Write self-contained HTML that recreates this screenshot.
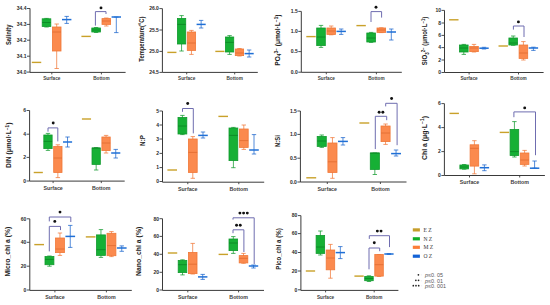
<!DOCTYPE html>
<html><head><meta charset="utf-8"><style>
html,body{margin:0;padding:0;background:#fff;}
body{width:550px;height:305px;overflow:hidden;}
svg{display:block;}
text{font-family:"Liberation Sans",sans-serif;}
.ax{fill:none;stroke:#3a3a3a;stroke-width:1.0;}
.tk{fill:none;stroke:#3a3a3a;stroke-width:0.9;}
.tl{font-size:5px;font-weight:bold;fill:#2a2a2a;text-anchor:end;}
.xl{font-size:4.7px;font-weight:bold;fill:#404040;text-anchor:middle;}
.yl{font-size:6.4px;font-weight:bold;fill:#222;}
.br{fill:none;stroke:#6f6db0;stroke-width:1.0;}
.st{font-size:7px;font-weight:bold;fill:#111;text-anchor:middle;}
.lg{font-family:"Liberation Serif",serif;font-size:5.6px;fill:#333;letter-spacing:0px;}
.ps{font-size:5px;font-weight:bold;fill:#222;text-anchor:end;}
.pt{font-size:5.4px;fill:#555;}
.pc{font-size:4px;fill:#bbb;}
</style></head><body>
<svg width="550" height="305" viewBox="0 0 550 305">
<path d="M30 8.4V72.4H125.6" class="ax"/>
<path d="M27 72.1H30" class="tk"/>
<text x="26.5" y="73.9" class="tl">34.0</text>
<path d="M27 56.2H30" class="tk"/>
<text x="26.5" y="58" class="tl">34.1</text>
<path d="M27 40.2H30" class="tk"/>
<text x="26.5" y="42" class="tl">34.2</text>
<path d="M27 24.4H30" class="tk"/>
<text x="26.5" y="26.2" class="tl">34.3</text>
<path d="M27 8.5H30" class="tk"/>
<text x="26.5" y="10.3" class="tl">34.4</text>
<path d="M51.8 72.4V74.4" class="tk"/>
<path d="M101.4 72.4V74.4" class="tk"/>
<text x="51.8" y="79.8" class="xl" font-size="4.7" style="font-size:4.7px">Surface</text>
<text x="101.4" y="79.8" class="xl" style="font-size:4.7px">Bottom</text>
<rect x="31.81" y="61.7" width="9.41" height="1.4" fill="#c9a12a"/>
<path d="M46.51 18.4V27M44.31 18.4H48.71M44.31 27H48.71" stroke="#119a2e" stroke-width="0.75" fill="none"/>
<rect x="42.2" y="18.8" width="8.61" height="7.7" fill="#16b035" stroke="#119a2e" stroke-width="0.8"/>
<path d="M42.2 22.5H50.81" stroke="#0b8424" stroke-width="0.8"/>
<path d="M56.7 24V68.5M54.5 24H58.9M54.5 68.5H58.9" stroke="#f07838" stroke-width="0.75" fill="none"/>
<rect x="52.4" y="27" width="8.61" height="24" fill="#fb8a4e" stroke="#f07838" stroke-width="0.8"/>
<path d="M52.4 32H61" stroke="#e06a30" stroke-width="0.8"/>
<path d="M66.7 16.4V23.4M64.5 16.4H68.9M64.5 23.4H68.9" stroke="#1a64cc" stroke-width="0.75" fill="none"/>
<path d="M61.99 19.6H71.4" stroke="#1f6fd6" stroke-width="1.5"/>
<rect x="81.41" y="35.7" width="9.41" height="1.4" fill="#c9a12a"/>
<path d="M96.11 27.5V32.5M93.91 27.5H98.31M93.91 32.5H98.31" stroke="#119a2e" stroke-width="0.75" fill="none"/>
<rect x="91.8" y="28" width="8.61" height="4" fill="#16b035" stroke="#119a2e" stroke-width="0.8"/>
<path d="M91.8 30H100.41" stroke="#0b8424" stroke-width="0.8"/>
<path d="M106.3 18V26M104.1 18H108.5M104.1 26H108.5" stroke="#f07838" stroke-width="0.75" fill="none"/>
<rect x="102" y="18.6" width="8.61" height="5.8" fill="#fb8a4e" stroke="#f07838" stroke-width="0.8"/>
<path d="M102 21H110.6" stroke="#e06a30" stroke-width="0.8"/>
<path d="M116.3 17V32.6M114.1 17H118.5M114.1 32.6H118.5" stroke="#1a64cc" stroke-width="0.75" fill="none"/>
<path d="M111.59 17H121" stroke="#1f6fd6" stroke-width="1.5"/>
<path d="M95.4 25.6V11.6H106V14" class="br"/>
<circle cx="101" cy="7.9" r="1.45" fill="#111"/>
<path d="M162.4 8.6V72.4H257.8" class="ax"/>
<path d="M159.4 72.4H162.4" class="tk"/>
<text x="158.9" y="74.2" class="tl">24.5</text>
<path d="M159.4 51.4H162.4" class="tk"/>
<text x="158.9" y="53.2" class="tl">25.0</text>
<path d="M159.4 30H162.4" class="tk"/>
<text x="158.9" y="31.8" class="tl">25.5</text>
<path d="M159.4 8.6H162.4" class="tk"/>
<text x="158.9" y="10.4" class="tl">26.0</text>
<path d="M186.7 72.4V74.4" class="tk"/>
<path d="M234.7 72.4V74.4" class="tk"/>
<text x="186.7" y="80" class="xl" font-size="4.7" style="font-size:4.7px">Surface</text>
<text x="234.7" y="80" class="xl" style="font-size:4.7px">Bottom</text>
<rect x="167.32" y="51.7" width="9.12" height="1.4" fill="#c9a12a"/>
<path d="M181.57 15.6V51M179.37 15.6H183.77M179.37 51H183.77" stroke="#119a2e" stroke-width="0.75" fill="none"/>
<rect x="177.41" y="18.4" width="8.32" height="25.6" fill="#16b035" stroke="#119a2e" stroke-width="0.8"/>
<path d="M177.41 24.4H185.73" stroke="#0b8424" stroke-width="0.8"/>
<path d="M191.45 30.4V54.4M189.25 30.4H193.65M189.25 54.4H193.65" stroke="#f07838" stroke-width="0.75" fill="none"/>
<rect x="187.29" y="32" width="8.32" height="18.4" fill="#fb8a4e" stroke="#f07838" stroke-width="0.8"/>
<path d="M187.29 43H195.61" stroke="#e06a30" stroke-width="0.8"/>
<path d="M201.14 20.4V28M198.94 20.4H203.34M198.94 28H203.34" stroke="#1a64cc" stroke-width="0.75" fill="none"/>
<path d="M196.58 24.4H205.7" stroke="#1f6fd6" stroke-width="1.5"/>
<rect x="215.32" y="50.7" width="9.12" height="1.4" fill="#c9a12a"/>
<path d="M229.57 35.6V54.4M227.37 35.6H231.77M227.37 54.4H231.77" stroke="#119a2e" stroke-width="0.75" fill="none"/>
<rect x="225.41" y="37" width="8.32" height="15" fill="#16b035" stroke="#119a2e" stroke-width="0.8"/>
<path d="M225.41 42.4H233.73" stroke="#0b8424" stroke-width="0.8"/>
<path d="M239.45 48.5V56M237.25 48.5H241.65M237.25 56H241.65" stroke="#f07838" stroke-width="0.75" fill="none"/>
<rect x="235.29" y="49" width="8.32" height="6.6" fill="#fb8a4e" stroke="#f07838" stroke-width="0.8"/>
<path d="M235.29 53H243.61" stroke="#e06a30" stroke-width="0.8"/>
<path d="M249.14 50V57M246.94 50H251.34M246.94 57H251.34" stroke="#1a64cc" stroke-width="0.75" fill="none"/>
<path d="M244.58 53.6H253.7" stroke="#1f6fd6" stroke-width="1.5"/>
<path d="M301.3 11.4V72.3H401.8" class="ax"/>
<path d="M298.3 72.2H301.3" class="tk"/>
<text x="297.8" y="74" class="tl">0.0</text>
<path d="M298.3 51.6H301.3" class="tk"/>
<text x="297.8" y="53.4" class="tl">0.5</text>
<path d="M298.3 31.4H301.3" class="tk"/>
<text x="297.8" y="33.2" class="tl">1.0</text>
<path d="M298.3 11.4H301.3" class="tk"/>
<text x="297.8" y="13.2" class="tl">1.5</text>
<path d="M326.3 72.3V74.3" class="tk"/>
<path d="M376.4 72.3V74.3" class="tk"/>
<text x="326.3" y="80.4" class="xl" font-size="4.7" style="font-size:4.7px">Surface</text>
<text x="376.4" y="80.4" class="xl" style="font-size:4.7px">Bottom</text>
<rect x="306.31" y="35.9" width="9.41" height="1.4" fill="#c9a12a"/>
<path d="M321.01 25.4V47.4M318.81 25.4H323.21M318.81 47.4H323.21" stroke="#119a2e" stroke-width="0.75" fill="none"/>
<rect x="316.7" y="28" width="8.61" height="17.6" fill="#16b035" stroke="#119a2e" stroke-width="0.8"/>
<path d="M316.7 37H325.31" stroke="#0b8424" stroke-width="0.8"/>
<path d="M331.2 26V34.8M329 26H333.4M329 34.8H333.4" stroke="#f07838" stroke-width="0.75" fill="none"/>
<rect x="326.9" y="28" width="8.61" height="6.4" fill="#fb8a4e" stroke="#f07838" stroke-width="0.8"/>
<path d="M326.9 31H335.5" stroke="#e06a30" stroke-width="0.8"/>
<path d="M341.2 29V34.4M339 29H343.4M339 34.4H343.4" stroke="#1a64cc" stroke-width="0.75" fill="none"/>
<path d="M336.49 31.4H345.9" stroke="#1f6fd6" stroke-width="1.5"/>
<rect x="356.41" y="24.9" width="9.41" height="1.4" fill="#c9a12a"/>
<path d="M371.11 32.4V42.4M368.91 32.4H373.31M368.91 42.4H373.31" stroke="#119a2e" stroke-width="0.75" fill="none"/>
<rect x="366.8" y="33" width="8.61" height="9" fill="#16b035" stroke="#119a2e" stroke-width="0.8"/>
<path d="M366.8 38H375.41" stroke="#0b8424" stroke-width="0.8"/>
<path d="M381.3 27.8V32.6M379.1 27.8H383.5M379.1 32.6H383.5" stroke="#f07838" stroke-width="0.75" fill="none"/>
<rect x="377" y="28" width="8.61" height="4.4" fill="#fb8a4e" stroke="#f07838" stroke-width="0.8"/>
<path d="M377 30H385.6" stroke="#e06a30" stroke-width="0.8"/>
<path d="M391.3 29V40M389.1 29H393.5M389.1 40H393.5" stroke="#1a64cc" stroke-width="0.75" fill="none"/>
<path d="M386.59 32H396" stroke="#1f6fd6" stroke-width="1.5"/>
<path d="M371 22V11.6H381.6V17.6" class="br"/>
<circle cx="376" cy="7.3" r="1.45" fill="#111"/>
<path d="M444.5 10.4V72.5H543.6" class="ax"/>
<path d="M441.5 72.5H444.5" class="tk"/>
<text x="441" y="74.3" class="tl">0</text>
<path d="M441.5 60H444.5" class="tk"/>
<text x="441" y="61.8" class="tl">2</text>
<path d="M441.5 47.6H444.5" class="tk"/>
<text x="441" y="49.4" class="tl">4</text>
<path d="M441.5 35.4H444.5" class="tk"/>
<text x="441" y="37.2" class="tl">6</text>
<path d="M441.5 23H444.5" class="tk"/>
<text x="441" y="24.8" class="tl">8</text>
<path d="M441.5 10.4H444.5" class="tk"/>
<text x="441" y="12.2" class="tl">10</text>
<path d="M469.1 72.5V74.5" class="tk"/>
<path d="M518.5 72.5V74.5" class="tk"/>
<text x="469.1" y="80.2" class="xl" font-size="4.7" style="font-size:4.7px">Surface</text>
<text x="518.5" y="80.2" class="xl" style="font-size:4.7px">Bottom</text>
<rect x="449.11" y="19.1" width="9.41" height="1.4" fill="#c9a12a"/>
<path d="M463.81 44.4V54.4M461.61 44.4H466.01M461.61 54.4H466.01" stroke="#119a2e" stroke-width="0.75" fill="none"/>
<rect x="459.5" y="45" width="8.61" height="7" fill="#16b035" stroke="#119a2e" stroke-width="0.8"/>
<path d="M459.5 48H468.11" stroke="#0b8424" stroke-width="0.8"/>
<path d="M474 44.4V52M471.8 44.4H476.2M471.8 52H476.2" stroke="#f07838" stroke-width="0.75" fill="none"/>
<rect x="469.7" y="46.4" width="8.61" height="5.2" fill="#fb8a4e" stroke="#f07838" stroke-width="0.8"/>
<path d="M469.7 48H478.3" stroke="#e06a30" stroke-width="0.8"/>
<path d="M484 47.3V49M481.8 47.3H486.2M481.8 49H486.2" stroke="#1a64cc" stroke-width="0.75" fill="none"/>
<path d="M479.29 48.2H488.7" stroke="#1f6fd6" stroke-width="1.5"/>
<rect x="498.51" y="45.3" width="9.41" height="1.4" fill="#c9a12a"/>
<path d="M513.21 36V45.3M511.01 36H515.41M511.01 45.3H515.41" stroke="#119a2e" stroke-width="0.75" fill="none"/>
<rect x="508.9" y="38" width="8.61" height="7" fill="#16b035" stroke="#119a2e" stroke-width="0.8"/>
<path d="M508.9 43H517.51" stroke="#0b8424" stroke-width="0.8"/>
<path d="M523.4 41.6V60M521.2 41.6H525.6M521.2 60H525.6" stroke="#f07838" stroke-width="0.75" fill="none"/>
<rect x="519.1" y="45" width="8.61" height="13.4" fill="#fb8a4e" stroke="#f07838" stroke-width="0.8"/>
<path d="M519.1 53H527.7" stroke="#e06a30" stroke-width="0.8"/>
<path d="M533.4 47.2V50.4M531.2 47.2H535.6M531.2 50.4H535.6" stroke="#1a64cc" stroke-width="0.75" fill="none"/>
<path d="M528.69 48H538.1" stroke="#1f6fd6" stroke-width="1.5"/>
<path d="M513.4 29.6V26H524V37" class="br"/>
<circle cx="518.4" cy="21.9" r="1.45" fill="#111"/>
<path d="M29.6 110.5V181.1H124.7" class="ax"/>
<path d="M26.6 181H29.6" class="tk"/>
<text x="26.1" y="182.8" class="tl">0</text>
<path d="M26.6 157.4H29.6" class="tk"/>
<text x="26.1" y="159.2" class="tl">2</text>
<path d="M26.6 134.2H29.6" class="tk"/>
<text x="26.1" y="136" class="tl">4</text>
<path d="M26.6 110.5H29.6" class="tk"/>
<text x="26.1" y="112.3" class="tl">6</text>
<path d="M53.1 181.1V183.1" class="tk"/>
<path d="M101.3 181.1V183.1" class="tk"/>
<text x="53.1" y="190.12" class="xl" font-size="5.3" style="font-size:5.3px">Surface</text>
<text x="101.3" y="190.12" class="xl" style="font-size:5.3px">Bottom</text>
<rect x="33.72" y="171.8" width="9.12" height="1.4" fill="#c9a12a"/>
<path d="M47.97 133.4V150.4M45.77 133.4H50.17M45.77 150.4H50.17" stroke="#119a2e" stroke-width="0.75" fill="none"/>
<rect x="43.81" y="135" width="8.32" height="13.6" fill="#16b035" stroke="#119a2e" stroke-width="0.8"/>
<path d="M43.81 141.4H52.13" stroke="#0b8424" stroke-width="0.8"/>
<path d="M57.85 144.8V177.6M55.65 144.8H60.05M55.65 177.6H60.05" stroke="#f07838" stroke-width="0.75" fill="none"/>
<rect x="53.69" y="146.5" width="8.32" height="26" fill="#fb8a4e" stroke="#f07838" stroke-width="0.8"/>
<path d="M53.69 158H62.01" stroke="#e06a30" stroke-width="0.8"/>
<path d="M67.54 137V147M65.34 137H69.74M65.34 147H69.74" stroke="#1a64cc" stroke-width="0.75" fill="none"/>
<path d="M62.98 142H72.1" stroke="#1f6fd6" stroke-width="1.5"/>
<rect x="81.92" y="118.3" width="9.12" height="1.4" fill="#c9a12a"/>
<path d="M96.17 147.6V170M93.97 147.6H98.37M93.97 170H98.37" stroke="#119a2e" stroke-width="0.75" fill="none"/>
<rect x="92.01" y="148" width="8.32" height="16.4" fill="#16b035" stroke="#119a2e" stroke-width="0.8"/>
<path d="M92.01 148H100.33" stroke="#0b8424" stroke-width="0.8"/>
<path d="M106.05 135.4V153M103.85 135.4H108.25M103.85 153H108.25" stroke="#f07838" stroke-width="0.75" fill="none"/>
<rect x="101.89" y="137" width="8.32" height="13.6" fill="#fb8a4e" stroke="#f07838" stroke-width="0.8"/>
<path d="M101.89 143H110.21" stroke="#e06a30" stroke-width="0.8"/>
<path d="M115.74 149.4V158M113.54 149.4H117.94M113.54 158H117.94" stroke="#1a64cc" stroke-width="0.75" fill="none"/>
<path d="M111.18 153H120.3" stroke="#1f6fd6" stroke-width="1.5"/>
<path d="M48 131.7V127.9H57.8V141.4" class="br"/>
<circle cx="53.2" cy="123" r="1.45" fill="#111"/>
<path d="M162.5 111V182.2H264.2" class="ax"/>
<path d="M159.5 181.5H162.5" class="tk"/>
<text x="159" y="183.3" class="tl">0</text>
<path d="M159.5 167.6H162.5" class="tk"/>
<text x="159" y="169.4" class="tl">1</text>
<path d="M159.5 153.4H162.5" class="tk"/>
<text x="159" y="155.2" class="tl">2</text>
<path d="M159.5 139H162.5" class="tk"/>
<text x="159" y="140.8" class="tl">3</text>
<path d="M159.5 125H162.5" class="tk"/>
<text x="159" y="126.8" class="tl">4</text>
<path d="M159.5 111H162.5" class="tk"/>
<text x="159" y="112.8" class="tl">5</text>
<path d="M187.8 182.2V184.2" class="tk"/>
<path d="M238.8 182.2V184.2" class="tk"/>
<text x="187.8" y="191.12" class="xl" font-size="5.3" style="font-size:5.3px">Surface</text>
<text x="238.8" y="191.12" class="xl" style="font-size:5.3px">Bottom</text>
<rect x="167.4" y="169.3" width="9.6" height="1.4" fill="#c9a12a"/>
<path d="M182.4 115.4V134.6M180.2 115.4H184.6M180.2 134.6H184.6" stroke="#119a2e" stroke-width="0.75" fill="none"/>
<rect x="178" y="117.4" width="8.8" height="16.6" fill="#16b035" stroke="#119a2e" stroke-width="0.8"/>
<path d="M178 126H186.8" stroke="#0b8424" stroke-width="0.8"/>
<path d="M192.8 136.6V178.3M190.6 136.6H195M190.6 178.3H195" stroke="#f07838" stroke-width="0.75" fill="none"/>
<rect x="188.4" y="139" width="8.8" height="33.5" fill="#fb8a4e" stroke="#f07838" stroke-width="0.8"/>
<path d="M188.4 152.4H197.2" stroke="#e06a30" stroke-width="0.8"/>
<path d="M203 132V138M200.8 132H205.2M200.8 138H205.2" stroke="#1a64cc" stroke-width="0.75" fill="none"/>
<path d="M198.2 135.4H207.8" stroke="#1f6fd6" stroke-width="1.5"/>
<rect x="218.4" y="115.7" width="9.6" height="1.4" fill="#c9a12a"/>
<path d="M233.4 127.4V167.7M231.2 127.4H235.6M231.2 167.7H235.6" stroke="#119a2e" stroke-width="0.75" fill="none"/>
<rect x="229" y="128" width="8.8" height="32.6" fill="#16b035" stroke="#119a2e" stroke-width="0.8"/>
<path d="M229 135.4H237.8" stroke="#0b8424" stroke-width="0.8"/>
<path d="M243.8 125V149.4M241.6 125H246M241.6 149.4H246" stroke="#f07838" stroke-width="0.75" fill="none"/>
<rect x="239.4" y="129" width="8.8" height="18.4" fill="#fb8a4e" stroke="#f07838" stroke-width="0.8"/>
<path d="M239.4 140.6H248.2" stroke="#e06a30" stroke-width="0.8"/>
<path d="M254 134.6V154M251.8 134.6H256.2M251.8 154H256.2" stroke="#1a64cc" stroke-width="0.75" fill="none"/>
<path d="M249.2 150H258.8" stroke="#1f6fd6" stroke-width="1.5"/>
<path d="M182.5 111.8V108.5H193.3V133.4" class="br"/>
<circle cx="187.7" cy="103.5" r="1.45" fill="#111"/>
<path d="M300.4 111V182H406.5" class="ax"/>
<path d="M297.4 182H300.4" class="tk"/>
<text x="296.9" y="183.8" class="tl">0.0</text>
<path d="M297.4 158.2H300.4" class="tk"/>
<text x="296.9" y="160" class="tl">0.5</text>
<path d="M297.4 134.4H300.4" class="tk"/>
<text x="296.9" y="136.2" class="tl">1.0</text>
<path d="M297.4 111H300.4" class="tk"/>
<text x="296.9" y="112.8" class="tl">1.5</text>
<path d="M327.3 182V184" class="tk"/>
<path d="M380.4 182V184" class="tk"/>
<text x="327.3" y="191.22" class="xl" font-size="5.3" style="font-size:5.3px">Surface</text>
<text x="380.4" y="191.22" class="xl" style="font-size:5.3px">Bottom</text>
<rect x="306.29" y="177.1" width="9.89" height="1.4" fill="#c9a12a"/>
<path d="M321.74 135V147.4M319.54 135H323.94M319.54 147.4H323.94" stroke="#119a2e" stroke-width="0.75" fill="none"/>
<rect x="317.19" y="136.4" width="9.09" height="10" fill="#16b035" stroke="#119a2e" stroke-width="0.8"/>
<path d="M317.19 141H326.28" stroke="#0b8424" stroke-width="0.8"/>
<path d="M332.45 137.6V178.3M330.25 137.6H334.65M330.25 178.3H334.65" stroke="#f07838" stroke-width="0.75" fill="none"/>
<rect x="327.91" y="143" width="9.09" height="29.5" fill="#fb8a4e" stroke="#f07838" stroke-width="0.8"/>
<path d="M327.91 161.8H336.99" stroke="#e06a30" stroke-width="0.8"/>
<path d="M342.96 137.6V145M340.76 137.6H345.16M340.76 145H345.16" stroke="#1a64cc" stroke-width="0.75" fill="none"/>
<path d="M338.01 141.4H347.9" stroke="#1f6fd6" stroke-width="1.5"/>
<rect x="359.39" y="122.3" width="9.89" height="1.4" fill="#c9a12a"/>
<path d="M374.84 153V174.5M372.64 153H377.04M372.64 174.5H377.04" stroke="#119a2e" stroke-width="0.75" fill="none"/>
<rect x="370.29" y="153" width="9.09" height="16.4" fill="#16b035" stroke="#119a2e" stroke-width="0.8"/>
<path d="M370.29 153H379.38" stroke="#0b8424" stroke-width="0.8"/>
<path d="M385.55 124V144.4M383.35 124H387.75M383.35 144.4H387.75" stroke="#f07838" stroke-width="0.75" fill="none"/>
<rect x="381.01" y="126" width="9.09" height="15.6" fill="#fb8a4e" stroke="#f07838" stroke-width="0.8"/>
<path d="M381.01 133H390.09" stroke="#e06a30" stroke-width="0.8"/>
<path d="M396.06 150V156M393.86 150H398.26M393.86 156H398.26" stroke="#1a64cc" stroke-width="0.75" fill="none"/>
<path d="M391.11 153.6H401" stroke="#1f6fd6" stroke-width="1.5"/>
<path d="M375.3 149.1V116.3H386.7V120.2" class="br"/>
<circle cx="379.15" cy="112.3" r="1.45" fill="#111"/>
<circle cx="382.85" cy="112.3" r="1.45" fill="#111"/>
<path d="M385.7 106.4V103.3H397.1V145.2" class="br"/>
<circle cx="391.6" cy="98.5" r="1.45" fill="#111"/>
<path d="M444.4 103.6V175.5H544.9" class="ax"/>
<path d="M441.4 175.5H444.4" class="tk"/>
<text x="440.9" y="177.3" class="tl">0</text>
<path d="M441.4 151.6H444.4" class="tk"/>
<text x="440.9" y="153.4" class="tl">2</text>
<path d="M441.4 127.6H444.4" class="tk"/>
<text x="440.9" y="129.4" class="tl">4</text>
<path d="M441.4 103.6H444.4" class="tk"/>
<text x="440.9" y="105.4" class="tl">6</text>
<path d="M469.5 175.5V177.5" class="tk"/>
<path d="M519.7 175.5V177.5" class="tk"/>
<text x="469.5" y="184.12" class="xl" font-size="5.3" style="font-size:5.3px">Surface</text>
<text x="519.7" y="184.12" class="xl" style="font-size:5.3px">Bottom</text>
<rect x="449.51" y="112.7" width="9.41" height="1.4" fill="#c9a12a"/>
<path d="M464.21 164.5V169.2M462.01 164.5H466.41M462.01 169.2H466.41" stroke="#119a2e" stroke-width="0.75" fill="none"/>
<rect x="459.9" y="165" width="8.61" height="3.9" fill="#16b035" stroke="#119a2e" stroke-width="0.8"/>
<path d="M459.9 167H468.51" stroke="#0b8424" stroke-width="0.8"/>
<path d="M474.4 140.7V173.8M472.2 140.7H476.6M472.2 173.8H476.6" stroke="#f07838" stroke-width="0.75" fill="none"/>
<rect x="470.1" y="144.8" width="8.61" height="21.3" fill="#fb8a4e" stroke="#f07838" stroke-width="0.8"/>
<path d="M470.1 148.3H478.7" stroke="#e06a30" stroke-width="0.8"/>
<path d="M484.4 164.9V170.7M482.2 164.9H486.6M482.2 170.7H486.6" stroke="#1a64cc" stroke-width="0.75" fill="none"/>
<path d="M479.69 167.7H489.1" stroke="#1f6fd6" stroke-width="1.5"/>
<rect x="499.71" y="131.7" width="9.41" height="1.4" fill="#c9a12a"/>
<path d="M514.41 121.6V157M512.21 121.6H516.61M512.21 157H516.61" stroke="#119a2e" stroke-width="0.75" fill="none"/>
<rect x="510.1" y="129.4" width="8.61" height="26.2" fill="#16b035" stroke="#119a2e" stroke-width="0.8"/>
<path d="M510.1 151.6H518.71" stroke="#0b8424" stroke-width="0.8"/>
<path d="M524.6 150.4V166M522.4 150.4H526.8M522.4 166H526.8" stroke="#f07838" stroke-width="0.75" fill="none"/>
<rect x="520.3" y="153" width="8.61" height="11.4" fill="#fb8a4e" stroke="#f07838" stroke-width="0.8"/>
<path d="M520.3 160H528.9" stroke="#e06a30" stroke-width="0.8"/>
<path d="M534.6 161V168.2M532.4 161H536.8M532.4 168.2H536.8" stroke="#1a64cc" stroke-width="0.75" fill="none"/>
<path d="M529.89 168.2H539.3" stroke="#1f6fd6" stroke-width="1.5"/>
<path d="M513.9 117.2V111.9H535.5V155.2" class="br"/>
<circle cx="524.7" cy="107.9" r="1.45" fill="#111"/>
<path d="M29.8 218.8V290.4H131.8" class="ax"/>
<path d="M26.8 290H29.8" class="tk"/>
<text x="26.3" y="291.8" class="tl">0</text>
<path d="M26.8 266.2H29.8" class="tk"/>
<text x="26.3" y="268" class="tl">20</text>
<path d="M26.8 242.3H29.8" class="tk"/>
<text x="26.3" y="244.1" class="tl">40</text>
<path d="M26.8 218.8H29.8" class="tk"/>
<text x="26.3" y="220.6" class="tl">60</text>
<path d="M54.9 290.4V292.4" class="tk"/>
<path d="M106.4 290.4V292.4" class="tk"/>
<text x="54.9" y="298.72" class="xl" font-size="5.3" style="font-size:5.3px">Surface</text>
<text x="106.4" y="298.72" class="xl" style="font-size:5.3px">Bottom</text>
<rect x="34.3" y="243.9" width="9.7" height="1.4" fill="#c9a12a"/>
<path d="M49.45 256V266.2M47.25 256H51.65M47.25 266.2H51.65" stroke="#119a2e" stroke-width="0.75" fill="none"/>
<rect x="45" y="256.5" width="8.9" height="8.2" fill="#16b035" stroke="#119a2e" stroke-width="0.8"/>
<path d="M45 259.4H53.89" stroke="#0b8424" stroke-width="0.8"/>
<path d="M59.95 233V255.4M57.75 233H62.15M57.75 255.4H62.15" stroke="#f07838" stroke-width="0.75" fill="none"/>
<rect x="55.5" y="238" width="8.9" height="14.6" fill="#fb8a4e" stroke="#f07838" stroke-width="0.8"/>
<path d="M55.5 249H64.4" stroke="#e06a30" stroke-width="0.8"/>
<path d="M70.25 225.4V247.4M68.05 225.4H72.45M68.05 247.4H72.45" stroke="#1a64cc" stroke-width="0.75" fill="none"/>
<path d="M65.4 236.4H75.1" stroke="#1f6fd6" stroke-width="1.5"/>
<rect x="85.8" y="236.2" width="9.7" height="1.4" fill="#c9a12a"/>
<path d="M100.95 229.6V257.4M98.75 229.6H103.15M98.75 257.4H103.15" stroke="#119a2e" stroke-width="0.75" fill="none"/>
<rect x="96.5" y="234.9" width="8.9" height="20.5" fill="#16b035" stroke="#119a2e" stroke-width="0.8"/>
<path d="M96.5 249.7H105.39" stroke="#0b8424" stroke-width="0.8"/>
<path d="M111.45 231.6V256.6M109.25 231.6H113.65M109.25 256.6H113.65" stroke="#f07838" stroke-width="0.75" fill="none"/>
<rect x="107" y="233.3" width="8.9" height="22.4" fill="#fb8a4e" stroke="#f07838" stroke-width="0.8"/>
<path d="M107 245.6H115.9" stroke="#e06a30" stroke-width="0.8"/>
<path d="M121.75 245.9V251.3M119.55 245.9H123.95M119.55 251.3H123.95" stroke="#1a64cc" stroke-width="0.75" fill="none"/>
<path d="M116.9 248H126.6" stroke="#1f6fd6" stroke-width="1.5"/>
<path d="M49.3 251.4V226.4H60.5V230.1" class="br"/>
<circle cx="54.8" cy="221.4" r="1.45" fill="#111"/>
<path d="M49.3 221.4V217H70.8V222" class="br"/>
<circle cx="60" cy="212.1" r="1.45" fill="#111"/>
<path d="M162.5 218.7V290.4H264" class="ax"/>
<path d="M159.5 290H162.5" class="tk"/>
<text x="159" y="291.8" class="tl">0</text>
<path d="M159.5 272.3H162.5" class="tk"/>
<text x="159" y="274.1" class="tl">20</text>
<path d="M159.5 254.3H162.5" class="tk"/>
<text x="159" y="256.1" class="tl">40</text>
<path d="M159.5 236.4H162.5" class="tk"/>
<text x="159" y="238.2" class="tl">60</text>
<path d="M159.5 218.7H162.5" class="tk"/>
<text x="159" y="220.5" class="tl">80</text>
<path d="M187.8 290.4V292.4" class="tk"/>
<path d="M238.6 290.4V292.4" class="tk"/>
<text x="187.8" y="298.72" class="xl" font-size="5.3" style="font-size:5.3px">Surface</text>
<text x="238.6" y="298.72" class="xl" style="font-size:5.3px">Bottom</text>
<rect x="167.81" y="252.3" width="9.41" height="1.4" fill="#c9a12a"/>
<path d="M182.51 259.8V274.9M180.31 259.8H184.71M180.31 274.9H184.71" stroke="#119a2e" stroke-width="0.75" fill="none"/>
<rect x="178.2" y="260.4" width="8.61" height="12.2" fill="#16b035" stroke="#119a2e" stroke-width="0.8"/>
<path d="M178.2 264.7H186.81" stroke="#0b8424" stroke-width="0.8"/>
<path d="M192.7 243.4V274M190.5 243.4H194.9M190.5 274H194.9" stroke="#f07838" stroke-width="0.75" fill="none"/>
<rect x="188.4" y="252.4" width="8.61" height="21.2" fill="#fb8a4e" stroke="#f07838" stroke-width="0.8"/>
<path d="M188.4 264.2H197" stroke="#e06a30" stroke-width="0.8"/>
<path d="M202.7 274.4V279.4M200.5 274.4H204.9M200.5 279.4H204.9" stroke="#1a64cc" stroke-width="0.75" fill="none"/>
<path d="M197.99 276.9H207.4" stroke="#1f6fd6" stroke-width="1.5"/>
<rect x="218.61" y="253.7" width="9.41" height="1.4" fill="#c9a12a"/>
<path d="M233.31 236.6V253.4M231.11 236.6H235.51M231.11 253.4H235.51" stroke="#119a2e" stroke-width="0.75" fill="none"/>
<rect x="229" y="239" width="8.61" height="11.6" fill="#16b035" stroke="#119a2e" stroke-width="0.8"/>
<path d="M229 243H237.61" stroke="#0b8424" stroke-width="0.8"/>
<path d="M243.5 253.4V263.3M241.3 253.4H245.7M241.3 263.3H245.7" stroke="#f07838" stroke-width="0.75" fill="none"/>
<rect x="239.2" y="255.6" width="8.61" height="7.3" fill="#fb8a4e" stroke="#f07838" stroke-width="0.8"/>
<path d="M239.2 258.3H247.8" stroke="#e06a30" stroke-width="0.8"/>
<path d="M253.5 265V268M251.3 265H255.7M251.3 268H255.7" stroke="#1a64cc" stroke-width="0.75" fill="none"/>
<path d="M248.79 266H258.2" stroke="#1f6fd6" stroke-width="1.5"/>
<path d="M233 233.2V229.8H243.9V252" class="br"/>
<circle cx="236.55" cy="225.3" r="1.45" fill="#111"/>
<circle cx="240.25" cy="225.3" r="1.45" fill="#111"/>
<path d="M233 219.6V217.8H254.2V264" class="br"/>
<circle cx="239.9" cy="213.1" r="1.45" fill="#111"/>
<circle cx="243.6" cy="213.1" r="1.45" fill="#111"/>
<circle cx="247.3" cy="213.1" r="1.45" fill="#111"/>
<path d="M300.9 215.6V290.4H398.4" class="ax"/>
<path d="M297.9 289.8H300.9" class="tk"/>
<text x="297.4" y="291.6" class="tl">0</text>
<path d="M297.9 271H300.9" class="tk"/>
<text x="297.4" y="272.8" class="tl">20</text>
<path d="M297.9 252.5H300.9" class="tk"/>
<text x="297.4" y="254.3" class="tl">40</text>
<path d="M297.9 233.6H300.9" class="tk"/>
<text x="297.4" y="235.4" class="tl">60</text>
<path d="M297.9 215.6H300.9" class="tk"/>
<text x="297.4" y="217.4" class="tl">80</text>
<path d="M325.6 290.4V292.4" class="tk"/>
<path d="M374.2 290.4V292.4" class="tk"/>
<text x="325.6" y="298.5" class="xl" font-size="4.7" style="font-size:4.7px">Surface</text>
<text x="374.2" y="298.5" class="xl" style="font-size:4.7px">Bottom</text>
<rect x="305.81" y="270.3" width="9.31" height="1.4" fill="#c9a12a"/>
<path d="M320.36 231V255M318.16 231H322.56M318.16 255H322.56" stroke="#119a2e" stroke-width="0.75" fill="none"/>
<rect x="316.11" y="235.4" width="8.51" height="18" fill="#16b035" stroke="#119a2e" stroke-width="0.8"/>
<path d="M316.11 247H324.62" stroke="#0b8424" stroke-width="0.8"/>
<path d="M330.45 244.4V278.2M328.25 244.4H332.65M328.25 278.2H332.65" stroke="#f07838" stroke-width="0.75" fill="none"/>
<rect x="326.19" y="250" width="8.51" height="19.8" fill="#fb8a4e" stroke="#f07838" stroke-width="0.8"/>
<path d="M326.19 258H334.71" stroke="#e06a30" stroke-width="0.8"/>
<path d="M340.34 246.6V258.6M338.14 246.6H342.54M338.14 258.6H342.54" stroke="#1a64cc" stroke-width="0.75" fill="none"/>
<path d="M335.69 252.6H345" stroke="#1f6fd6" stroke-width="1.5"/>
<rect x="354.41" y="275.4" width="9.31" height="1.4" fill="#c9a12a"/>
<path d="M368.96 275.8V281.5M366.76 275.8H371.16M366.76 281.5H371.16" stroke="#119a2e" stroke-width="0.75" fill="none"/>
<rect x="364.71" y="276.4" width="8.51" height="4.3" fill="#16b035" stroke="#119a2e" stroke-width="0.8"/>
<path d="M364.71 278.5H373.22" stroke="#0b8424" stroke-width="0.8"/>
<path d="M379.05 254.5V276.5M376.85 254.5H381.25M376.85 276.5H381.25" stroke="#f07838" stroke-width="0.75" fill="none"/>
<rect x="374.79" y="254.5" width="8.51" height="21.6" fill="#fb8a4e" stroke="#f07838" stroke-width="0.8"/>
<path d="M374.79 264.7H383.31" stroke="#e06a30" stroke-width="0.8"/>
<path d="M388.94 253.5V254.5M386.74 253.5H391.14M386.74 254.5H391.14" stroke="#1a64cc" stroke-width="0.75" fill="none"/>
<path d="M384.29 254H393.6" stroke="#1f6fd6" stroke-width="1.5"/>
<path d="M369 269.3V248H379.7V251.2" class="br"/>
<circle cx="374.3" cy="242.7" r="1.45" fill="#111"/>
<path d="M369.3 238.9V235.7H389.5V247.1" class="br"/>
<circle cx="377.35" cy="231.1" r="1.45" fill="#111"/>
<circle cx="381.05" cy="231.1" r="1.45" fill="#111"/>
<text transform="translate(10.88 34.8) rotate(-90)" x="-10.3" textLength="20.6" lengthAdjust="spacingAndGlyphs" class="yl">Salinity</text>
<text transform="translate(143.68 39.15) rotate(-90)" x="-22.55" textLength="45.1" lengthAdjust="spacingAndGlyphs" class="yl">Temperature(°C)</text>
<text transform="translate(279.98 40.1) rotate(-90)" x="-25.6" textLength="51.2" lengthAdjust="spacingAndGlyphs" class="yl">PO<tspan font-size="4.6" dy="1.4">4</tspan><tspan font-size="4.6" dy="-3.8">3−</tspan><tspan dy="2.4"> (μmol·L</tspan><tspan font-size="4.6" dy="-2.4">−1</tspan><tspan dy="2.4">)</tspan></text>
<text transform="translate(427.38 40.9) rotate(-90)" x="-24.3" textLength="48.6" lengthAdjust="spacingAndGlyphs" class="yl">SiO<tspan font-size="4.6" dy="1.4">3</tspan><tspan font-size="4.6" dy="-3.8">2−</tspan><tspan dy="2.4"> (μmol·L</tspan><tspan font-size="4.6" dy="-2.4">−1</tspan><tspan dy="2.4">)</tspan></text>
<text transform="translate(10.98 145.2) rotate(-90)" x="-22.7" textLength="45.4" lengthAdjust="spacingAndGlyphs" class="yl">DIN (μmol·L<tspan font-size="4.6" dy="-2.4">−1</tspan><tspan dy="2.4">)</tspan></text>
<text transform="translate(145.38 140.5) rotate(-90)" x="-5.4" textLength="10.8" lengthAdjust="spacingAndGlyphs" class="yl">N:P</text>
<text transform="translate(280.48 141) rotate(-90)" x="-5.9" textLength="11.8" lengthAdjust="spacingAndGlyphs" class="yl">N:Si</text>
<text transform="translate(426.88 138) rotate(-90)" x="-22" textLength="44" lengthAdjust="spacingAndGlyphs" class="yl">Chl a (μg·L<tspan font-size="4.6" dy="-2.4">−1</tspan><tspan dy="2.4">)</tspan></text>
<text transform="translate(10.08 251.7) rotate(-90)" x="-24.9" textLength="49.8" lengthAdjust="spacingAndGlyphs" class="yl">Micro_chl a (%)</text>
<text transform="translate(140.88 251.4) rotate(-90)" x="-24.7" textLength="49.4" lengthAdjust="spacingAndGlyphs" class="yl">Nano_chl a (%)</text>
<text transform="translate(281.18 249) rotate(-90)" x="-20.7" textLength="41.4" lengthAdjust="spacingAndGlyphs" class="yl" fill="#505050">Pico_chl a (%)</text>
<rect x="412.8" y="228.3" width="7.1" height="3.2" fill="#c69e2c"/>
<text x="423.4" y="231.9" class="lg">E Z</text>
<rect x="412.8" y="237.2" width="7.1" height="3.2" fill="#10ae28"/>
<text x="423.4" y="240.8" class="lg">N Z</text>
<rect x="412.8" y="245.7" width="7.1" height="3.2" fill="#fb7e38"/>
<text x="423.4" y="249.3" class="lg">M Z</text>
<rect x="412.8" y="254.6" width="7.1" height="3.2" fill="#1262d6"/>
<text x="423.4" y="258.2" class="lg">O Z</text>
<circle cx="418.4" cy="274.8" r="0.85" fill="#222"/>
<text x="420.7" y="276.3" class="pc">:</text>
<text x="425" y="277" class="pt"><tspan font-style="italic">p</tspan>≤0. 05</text>
<circle cx="415.85" cy="280.3" r="0.85" fill="#222"/>
<circle cx="418.55" cy="280.3" r="0.85" fill="#222"/>
<text x="420.85" y="281.8" class="pc">:</text>
<text x="425" y="282.5" class="pt"><tspan font-style="italic">p</tspan>≤0. 01</text>
<circle cx="413.3" cy="285.7" r="0.85" fill="#222"/>
<circle cx="416" cy="285.7" r="0.85" fill="#222"/>
<circle cx="418.7" cy="285.7" r="0.85" fill="#222"/>
<text x="421" y="287.2" class="pc">:</text>
<text x="425" y="287.9" class="pt"><tspan font-style="italic">p</tspan>≤0. 001</text>
</svg>
</body></html>
